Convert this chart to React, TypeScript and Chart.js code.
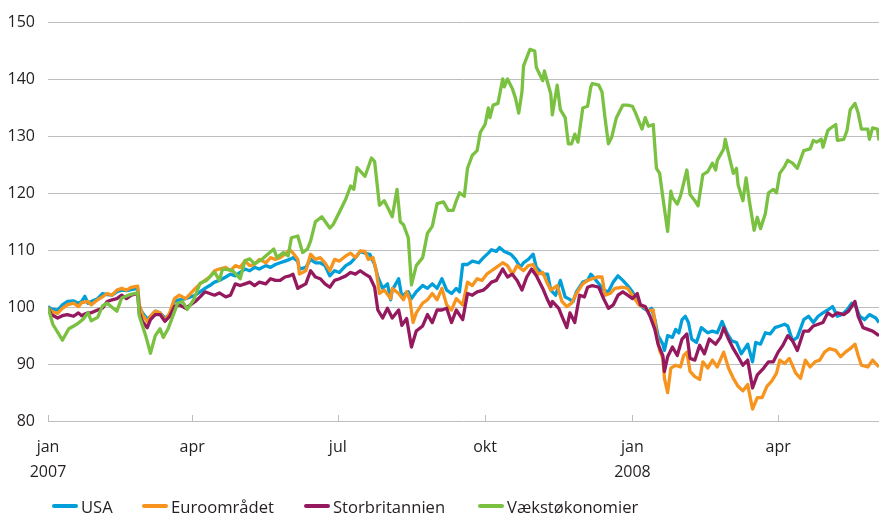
import React, { useEffect, useRef } from "react";
import { Chart, registerables } from "chart.js";

Chart.register(...registerables);

// x = days since 1 Jan 2007, y = index (1 Jan 2007 = 100)
const usa: [number, number][] = [
  [0,100.1],[2,99.7],[6,99.5],[9,100.4],[12,101],[16,101.1],[19,100.7],[21,101],[23,101.9],[25,100.7],[27,101],[31,101.5],[34,102.4],[37,102.2],[40,102.1],[43,102.7],[46,103],[49,102.9],[52,103.1],[56,103.3],
  [57,100.1],[59,99],[62,97.9],[64,98.4],[67,99.3],[70,99],[73,98.1],[76,98.7],[79,101],[82,101.3],[86,101.5],[89,101.8],[92,102.1],[95,102.7],[98,103.3],[101,103.8],[104,104.4],[107,104.7],[111,105.3],[114,105.8],[117,105.5],[120,106.1],[123,106.7],[126,106.4],[129,107],[132,106.7],[136,107.3],[139,107],[142,107.5],[145,107.8],[148,108.1],[151,108.4],[153,108.7],[156,108.1],
  [157,106.7],[161,107],[164,108.4],[167,107.8],[170,107.8],[173,107.3],[176,105.5],[179,106.4],[182,106.1],[186,107.3],[189,107.8],[192,108.7],[195,109.8],[198,109.5],[201,109.3],[204,107.5],[206,105.3],[209,103.3],[212,104.1],[214,101.3],[215,103],[219,105],[221,101.8],[223,102.4],[225,102.7],[227,101.5],[230,102.7],[234,103.8],[237,103.3],[240,104.1],[243,103.3],[246,105],[249,103],[252,102.4],[255,103.3],[257,102.7],[259,107.5],[262,107.5],[265,108.1],[269,107.8],[272,108.7],[275,109.5],[277,110.1],[280,109.8],[282,110.5],[285,109.8],[289,109.3],[292,108.4],[295,107],[297,107.8],[300,108.4],[303,109.3],[305,107],[309,105.8],[312,105.8],
  [314,103],[317,102.1],[320,104.7],[323,101.8],[325,101.5],[328,101],[330,102.7],[334,104.4],[337,104.7],[339,105.8],[340,105.5],[344,104.1],[347,103],[350,102.7],[353,104.4],[356,105.5],[359,104.7],[362,103.8],[365,102.7],[368,101.3],[370,100.4],[372,99.8],[375,99.3],[377,99.8],[379,97.8],[381,95],[384,93.5],[385,92.4],[387,95],[390,94.7],[392,96.1],[394,95.5],[396,97.8],[398,98.4],[400,97.3],[402,94.4],[405,93.8],[408,96.4],[412,95.5],[415,95.8],[418,95.5],[421,97.5],[424,95.5],[427,94.1],[430,93.8],[433,91.8],[437,93.5],[440,90.4],[442,93.8],[445,93.5],[448,95.5],[451,95.3],[454,96.4],[457,96.7],[460,97],[462,96.7],[465,94.1],[468,94.7],[472,97.8],[475,98.4],[478,97.3],[481,98.4],[484,99],[487,99.5],[490,100.1],[493,98.4],[496,98.7],[499,99.5],[502,100.7],[504,100.4],[507,98.4],[510,97.8],[513,98.7],[517,98.1],[519,97.3]
];

const euro: [number, number][] = [
  [0,100],[2,99.3],[6,98.9],[9,99.8],[12,100.4],[16,100.7],[19,100.1],[21,100.8],[23,100.9],[25,101],[27,100.4],[31,101.3],[34,101.8],[37,102.4],[40,102.1],[43,103],[46,103.3],[49,103],[52,103.5],[56,103.7],
  [57,100.4],[59,98.7],[62,97.4],[64,98.4],[67,99.3],[70,99],[73,97.7],[76,99],[79,101.5],[82,102.1],[86,101.5],[89,102.4],[92,103.3],[95,104.1],[98,104.7],[101,105.3],[104,106.4],[107,106.7],[111,107],[114,106.4],[117,107.3],[120,107],[123,108.1],[126,107.3],[129,107.5],[132,108.4],[136,107.8],[139,108.7],[142,108.4],[145,108.7],[148,109.3],[151,110.1],[153,109.5],[156,108.4],
  [157,105.8],[161,106.4],[164,109.3],[167,108.4],[170,108.7],[173,107.8],[176,106.4],[179,108.4],[182,108.1],[186,109],[189,109.5],[192,108.7],[195,109.9],[198,109.8],[200,108.4],[203,108.7],[205,106.4],[207,102.4],[210,103],[214,101.5],[215,103.3],[219,102.4],[222,101.3],[224,102.7],[226,101.3],[228,97.3],[230,99],[234,100.7],[237,101.3],[240,102.4],[243,101.3],[246,103.3],[249,100.4],[252,99.5],[255,101.5],[259,100.4],[262,104.4],[265,103.8],[268,105],[271,104.7],[274,105.8],[277,106.4],[280,107],[284,107.8],[287,107.3],[290,105.8],[293,107.3],[297,106.4],[300,107.3],[303,107.5],[306,105.8],[309,106.1],[312,104.1],
  [314,103],[318,103.8],[321,101],[324,100.1],[327,100.7],[330,102.4],[334,104.1],[337,104.7],[340,105],[343,105.3],[346,105.3],[348,102.1],[351,102.4],[354,103.3],[359,103.5],[362,103.3],[365,102.1],[369,100.4],[372,100.1],[375,99.3],[378,99.5],[380,95.5],[382,92.4],[384,91],[385,87.5],[387,85],[389,89.3],[392,89.8],[395,89.5],[397,91.5],[399,92.1],[401,88.7],[404,87.8],[407,87.3],[409,90.4],[412,89.3],[415,90.7],[418,89.5],[422,92.1],[425,89.3],[428,87.5],[431,86.1],[434,85.3],[437,86.4],[440,82.1],[443,84.1],[446,84.1],[449,86.1],[452,87],[455,88.4],[457,90.7],[460,90.1],[463,91],[467,88.4],[470,87.5],[473,90.7],[476,89.5],[479,90.4],[482,90.7],[485,92.1],[488,92.7],[492,92.4],[495,91.3],[498,92.1],[501,92.7],[504,93.5],[506,91.5],[508,89.8],[512,89.5],[515,90.7],[517,90.1],[519,89.5]
];

const uk: [number, number][] = [
  [0,100],[2,98.7],[6,98.1],[9,98.5],[12,98.7],[16,98.4],[19,99],[21,98.5],[23,98.8],[25,99],[27,99],[31,99.5],[34,99.8],[37,101],[40,101.3],[43,101.5],[46,102.1],[49,101.5],[52,102.1],[56,102.4],
  [57,99],[59,97.5],[62,96.4],[64,97.8],[67,98.7],[70,98.7],[73,97.5],[76,98.4],[79,100.1],[82,100.4],[86,99.8],[89,100.4],[92,101],[95,101.8],[98,102.7],[101,102.4],[104,102.1],[107,102.5],[111,101.8],[114,102.1],[117,104.1],[120,103.8],[123,104.1],[126,104.4],[129,103.8],[132,104.4],[136,104.1],[139,105],[142,104.7],[145,104.7],[148,105.3],[151,105.5],[153,105.8],[156,103.3],
  [157,103.5],[161,104.1],[164,106.4],[167,105.3],[170,105],[173,104.1],[176,103.5],[179,104.7],[182,105],[186,105.5],[189,106.1],[192,105.8],[195,106.4],[198,105.8],[201,105.3],[204,103.5],[206,99.5],[209,98.1],[212,99.8],[215,98.1],[219,99.5],[221,96.8],[224,98],[227,93],[230,95.8],[234,96.7],[237,98.7],[240,97.3],[243,99.5],[246,99.5],[249,99.8],[252,97.3],[255,99.5],[259,97.8],[262,102.4],[265,102.1],[268,102.7],[272,103],[274,103.5],[277,104.4],[280,104.7],[284,106.7],[287,105.3],[290,105.8],[293,104.7],[296,103],[299,105.3],[302,106.7],[305,105.5],[309,103.3],[312,101.3],
  [314,100.1],[315,101],[319,99.8],[321,98.4],[324,96.4],[326,99],[329,97.3],[332,102.1],[335,101.8],[337,103.5],[340,103.8],[344,103.5],[347,101.5],[350,99.8],[353,100.4],[356,102.1],[359,102.7],[362,102.1],[365,101.5],[368,102.4],[370,100.4],[373,100.1],[376,98.4],[379,96.1],[381,93.5],[384,91.5],[385,88.7],[387,91.3],[390,93],[393,91.5],[396,94.4],[399,95.3],[401,91],[404,90.7],[407,93.3],[410,91.8],[413,94.4],[417,93.5],[420,94.7],[422,96.4],[425,94.4],[428,92.7],[431,91.3],[434,89.8],[437,90.7],[440,85.8],[443,88.1],[447,89.3],[450,90.4],[453,90.4],[456,92.1],[459,93.3],[462,95],[465,94.1],[468,92.4],[472,95.8],[475,95.8],[478,96.7],[481,97],[484,97.3],[487,99],[490,98.4],[493,99],[497,98.7],[500,99.3],[504,101],[506,98.4],[509,96.4],[512,96.1],[515,95.8],[519,95]
];

const emerging: [number, number][] = [
  [0,100],[3,97],[9,94.2],[13,96.2],[18,97],[22,97.9],[25,99],[27,97.6],[31,98.2],[34,100.2],[37,100.7],[43,99.3],[46,101.6],[51,102.2],[56,102.5],
  [57,98.5],[61,95],[64,91.9],[67,95],[70,96.2],[72,94.7],[75,96.2],[81,100.7],[84,101],[87,99.6],[91,101.3],[95,104.2],[99,104.7],[104,106.2],[107,104.7],[109,106.7],[115,106.5],[120,105],[123,108.2],[126,108.5],[129,107.6],[134,108.5],[141,110.2],[143,108.7],[147,109.6],[150,109],[152,112.2],[156,112.5],
  [159,109.6],[162,110.2],[164,111.6],[167,115],[171,115.9],[176,113.9],[178,114.5],[182,116.7],[186,119],[189,121.3],[191,120.7],[193,124.5],[198,123],[202,126.2],[204,125.6],[207,117.9],[210,118.7],[212,117.6],[215,115.9],[218,120.7],[220,115],[222,114.5],[225,112.2],[227,103.9],[230,107.3],[234,108.7],[237,113],[240,114.2],[243,118.2],[247,118.5],[250,117],
  [253,117],[255,118.7],[257,120.1],[260,119.5],[262,124.4],[265,126.7],[268,127.5],[270,130.7],[273,132.1],[275,135],[276,133.3],[278,135.5],[281,135.8],[284,140.1],[285,138.7],[287,140.1],[290,138.4],[292,136.7],[294,134.1],[296,137.8],[297,142.4],[301,145.3],[304,145],[305,142.1],[309,139.8],[310,141.5],[314,137.5],[315,133.8],[318,139],[320,134.7],[323,133.3],[325,128.7],[327,128.7],[329,130.4],[331,129],[334,135],[337,135.3],[339,138.7],[340,139.3],[344,139],[346,137.8],[348,133],[350,128.7],[352,129.8],[355,133.3],[359,135.5],[362,135.5],[365,135.3],[367,134.1],[371,131.3],[373,133.3],[375,131.8],[378,132.1],
  [380,124.4],[382,123.5],[384,119.3],[387,113.3],[389,120.4],[390,119.3],[393,118.1],[395,119.5],[397,121.8],[399,124.1],[401,119.8],[404,118.7],[406,117.8],[409,123.3],[412,123.8],[415,125.3],[417,124.1],[418,125.8],[422,127.8],[423,129.5],[425,127],[428,123.5],[430,124.4],[431,121.5],[434,118.7],[436,122.7],[438,118.7],[441,113.5],[443,115.8],[445,113.8],[448,116.4],[450,120.1],[453,120.7],[455,120.1],[457,123.5],[460,124.7],[462,125.8],[465,125.3],[468,124.4],[472,127.5],[476,127.8],[478,129.3],[480,129],[483,129.5],[484,128.1],[487,131],[488,131.3],[492,132.1],[493,129.3],[497,129.5],[499,131],[501,134.7],[504,135.8],[506,134.1],[508,131.3],[512,131.3],[513,129.5],[515,131.5],[518,131.3],[519,129.3]
];

const seriesNames = ["USA", "Euroområdet", "Storbritannien", "Vækstøkonomier"];
const seriesColors = ["#009fda", "#f7941d", "#95195e", "#7ac142"];
const seriesData = [usa, euro, uk, emerging];

const tickDays = [0, 90, 181, 273, 365, 456];
const tickLabels: (string | string[])[] = [["jan", "2007"], "apr", "jul", "okt", ["jan", "2008"], "apr"];
const yMin = 80;
const yMax = 150;
const yStep = 10;
const xMax = 519;

const FONT = "'Open Sans', 'Noto Sans', sans-serif";
const TEXT = "#231f20";
const GRID = "#bdbdbd";
const legendLeft = [52, 142, 304, 478];

const upTicks = {
  id: "upTicks",
  beforeDatasetsDraw(chart: any) {
    const { ctx, chartArea, scales } = chart;
    ctx.save();
    ctx.strokeStyle = GRID;
    ctx.lineWidth = 1;
    tickDays.forEach((d) => {
      const x = Math.round(scales.x.getPixelForValue(d)) + 0.5;
      ctx.beginPath();
      ctx.moveTo(x, chartArea.bottom - 6);
      ctx.lineTo(x, chartArea.bottom);
      ctx.stroke();
    });
    ctx.restore();
  },
};

export default function App() {
  const ref = useRef<HTMLCanvasElement | null>(null);
  useEffect(() => {
    if (!ref.current) return;
    const chart = new Chart(ref.current, {
      type: "line",
      data: {
        datasets: seriesData.map((s, i) => ({
          label: seriesNames[i],
          data: s.map(([x, y]) => ({ x, y })),
          borderColor: seriesColors[i],
          backgroundColor: seriesColors[i],
          borderWidth: 3.3,
          pointRadius: 0,
          tension: 0,
          borderJoinStyle: "round" as const,
          order: 4 - i,
        })),
      },
      options: {
        responsive: false,
        animation: false,
        devicePixelRatio: 1,
        layout: { padding: { top: 13, right: 0, left: 0, bottom: 0 } },
        plugins: { legend: { display: false }, tooltip: { enabled: false } },
        scales: {
          x: {
            type: "linear",
            min: 0,
            max: xMax,
            grid: { display: false, drawTicks: false },
            border: { display: false },
            afterBuildTicks: (scale: any) => {
              scale.ticks = tickDays.map((v) => ({ value: v }));
            },
            afterFit: (scale: any) => {
              scale.height = 98;
            },
            ticks: {
              autoSkip: false,
              maxRotation: 0,
              padding: 14,
              color: TEXT,
              font: { family: FONT, size: 16, lineHeight: 1.55 },
              callback: (v: any) => {
                const i = tickDays.indexOf(Number(v));
                return i >= 0 ? tickLabels[i] : "";
              },
            },
          },
          y: {
            min: yMin,
            max: yMax,
            grid: { color: GRID, lineWidth: 1, drawTicks: false },
            border: { display: false },
            afterFit: (scale: any) => {
              scale.width = 48;
            },
            ticks: {
              stepSize: yStep,
              padding: 13,
              color: TEXT,
              font: { family: FONT, size: 16 },
            },
          },
        },
      },
      plugins: [upTicks],
    });
    return () => chart.destroy();
  }, []);

  return (
    <div style={{ position: "fixed", left: 0, top: 0, width: 879, height: 519, background: "#fff" }}>
      <canvas ref={ref} width={879} height={519} style={{ display: "block", width: 879, height: 519 }} />
      {seriesNames.map((n, i) => (
        <div
          key={n}
          style={{
            position: "absolute",
            left: legendLeft[i],
            top: 495,
            height: 22,
            display: "flex",
            alignItems: "center",
            fontFamily: FONT,
            fontSize: 16.6,
            color: TEXT,
            whiteSpace: "nowrap",
          }}
        >
          <span style={{ display: "inline-block", width: 26, height: 4, background: seriesColors[i], marginRight: 3, borderRadius: 2 }} />
          <span>{n}</span>
        </div>
      ))}
    </div>
  );
}
